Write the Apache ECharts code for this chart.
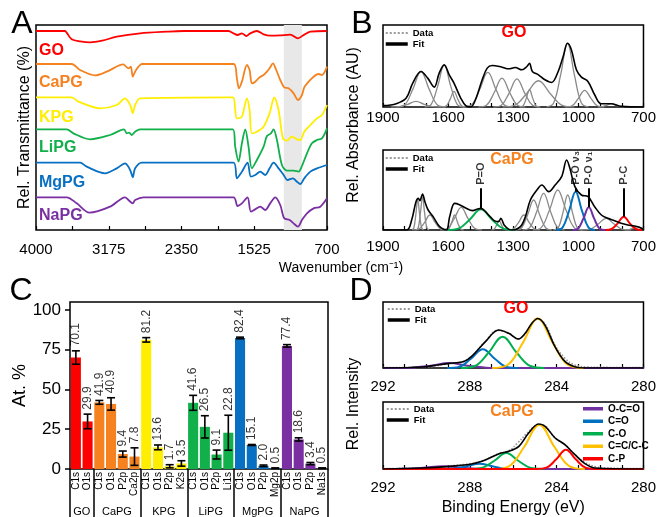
<!DOCTYPE html>
<html>
<head>
<meta charset="utf-8">
<script src="https://cdn.jsdelivr.net/npm/echarts@6/dist/echarts.min.js"></script>
<style>
  html, body { margin: 0; padding: 0; background: #fff; }
  #chart { width: 659px; height: 517px; }
</style>
</head>
<body>
<div id="chart"></div>
<script>
// ---- A: FTIR spectra (wavenumber, relative transmittance, offset units) ----
const ftirNames = ['GO', 'CaPG', 'KPG', 'LiPG', 'MgPG', 'NaPG']
const ftirColors = ['#ff0000', '#f5821f', '#ffee00', '#11b04b', '#0870c2', '#7a2fa2']
const ftirGO = [[4000,597],[3671,597],[3652,592],[3595,572],[3500,566],[3387,563],[3250,568],[3084,580],[2819,590],[2517,595],[2327,597],[1817,597],[1760,590],[1714,585],[1665,590],[1616,582],[1571,590],[1495,597],[1419,587],[1344,583],[1230,584],[1117,586],[1030,575],[965,585],[889,595],[700,597]]
const ftirCaPG = [[4000,498],[3595,498],[3501,480],[3330,464],[3198,475],[3009,497],[2978,490],[2952,485],[2925,490],[2903,460],[2876,475],[2838,490],[2800,498],[1760,498],[1722,455],[1699,425],[1665,445],[1608,495],[1578,480],[1552,440],[1514,445],[1465,458],[1419,465],[1381,475],[1351,485],[1313,500],[1276,480],[1230,450],[1185,428],[1136,425],[1079,410],[1030,390],[984,405],[958,428],[908,445],[852,460],[795,468],[757,465],[700,490]]
const ftirKPG = [[4000,398],[3595,398],[3519,385],[3273,365],[3084,375],[2990,395],[2952,385],[2925,370],[2903,350],[2876,375],[2819,395],[1767,398],[1741,360],[1722,335],[1665,340],[1608,395],[1578,360],[1552,290],[1495,295],[1419,310],[1351,350],[1298,398],[1249,360],[1200,275],[1154,268],[1098,280],[1041,272],[1003,270],[958,295],[889,315],[814,335],[757,345],[700,375]]
const ftirLiPG = [[4000,302],[3652,302],[3576,290],[3387,272],[3160,285],[3001,302],[2971,290],[2944,292],[2914,285],[2876,295],[2819,302],[1767,302],[1741,250],[1703,205],[1665,260],[1627,302],[1590,250],[1552,185],[1495,210],[1419,250],[1381,282],[1336,290],[1306,302],[1268,270],[1211,195],[1154,178],[1079,178],[1022,175],[984,192],[927,230],[871,260],[814,270],[757,275],[700,305]]
const ftirMgPG = [[4000,202],[3501,202],[3425,190],[3217,170],[3084,185],[2990,200],[2952,190],[2925,175],[2903,158],[2876,185],[2800,202],[1760,202],[1722,155],[1665,175],[1601,202],[1563,160],[1514,165],[1457,175],[1400,165],[1351,185],[1306,202],[1249,185],[1192,165],[1147,150],[1086,155],[1041,145],[1003,138],[958,155],[889,175],[814,185],[700,195]]
const ftirNaPG = [[4000,98],[3652,98],[3538,80],[3395,52],[3160,70],[2990,98],[2952,90],[2903,80],[2876,90],[2782,98],[1760,98],[1714,72],[1665,80],[1601,98],[1563,55],[1514,62],[1457,70],[1400,60],[1344,80],[1287,98],[1230,75],[1185,35],[1124,30],[1079,20],[1030,10],[984,30],[927,50],[852,65],[776,70],[700,95]]
const ftirCurves = [ftirGO, ftirCaPG, ftirKPG, ftirLiPG, ftirMgPG, ftirNaPG]
const ftirBand = [1190, 985]

// ---- B: peak fits of absorbance ----
const bGoFit = [[1900,4],[1839,10],[1793,27],[1763,72],[1725,107],[1694,87],[1664,60],[1641,102],[1618,127],[1595,97],[1573,72],[1542,27],[1519,4],[1496,0],[1474,22],[1443,82],[1420,117],[1397,125],[1352,120],[1321,115],[1291,119],[1260,112],[1237,122],[1225,132],[1212,107],[1184,97],[1154,82],[1123,74],[1093,107],[1070,152],[1050,192],[1032,172],[1009,112],[986,90],[956,77],[925,37],[895,10],[849,10],[803,2],[700,0]]
const bGoPeaks = [
  [[1862,0],[1824,1],[1786,8],[1748,17],[1710,8],[1672,1],[1634,0]],
  [[1839,0],[1801,6],[1763,53],[1725,107],[1687,53],[1649,6],[1611,0]],
  [[1708,0],[1678,8],[1648,63],[1618,127],[1588,63],[1558,8],[1528,0]],
  [[1627,0],[1609,3],[1591,23],[1573,47],[1555,23],[1537,3],[1519,0]],
  [[1531,0],[1493,6],[1455,52],[1417,104],[1379,52],[1341,6],[1303,0]],
  [[1460,0],[1424,5],[1388,43],[1352,87],[1316,43],[1280,5],[1244,0]],
  [[1391,0],[1355,5],[1319,42],[1283,85],[1247,42],[1211,5],[1175,0]],
  [[1270,0],[1255,3],[1240,26],[1225,52],[1210,26],[1195,3],[1180,0]],
  [[1349,0],[1294,5],[1239,40],[1184,79],[1129,40],[1074,5],[1019,0]],
  [[1146,0],[1114,12],[1082,96],[1050,192],[1018,96],[986,12],[954,0]],
  [[1061,0],[1031,3],[1001,25],[971,50],[941,25],[911,3],[881,0]],
  [[909,0],[889,1],[869,5],[849,10],[829,5],[809,1],[789,0]]
]
const bCaFit = [[1900,0],[1791,0],[1768,30],[1748,85],[1737,95],[1730,88],[1718,108],[1707,85],[1692,60],[1669,40],[1639,10],[1608,0],[1593,40],[1570,80],[1548,76],[1517,65],[1487,58],[1464,63],[1449,65],[1418,48],[1388,28],[1368,25],[1357,35],[1342,15],[1320,2],[1305,0],[1267,10],[1244,40],[1221,90],[1191,120],[1168,135],[1137,115],[1107,135],[1077,160],[1054,210],[1039,185],[1016,130],[986,105],[955,100],[925,70],[894,45],[864,35],[833,28],[803,20],[772,15],[742,12],[720,8],[700,2]]
const bCaPeaks = [
  [[1767,0],[1758,6],[1749,45],[1740,90],[1731,45],[1722,6],[1713,0]],
  [[1748,0],[1738,6],[1728,49],[1718,98],[1708,49],[1698,6],[1688,0]],
  [[1759,0],[1734,3],[1709,22],[1684,45],[1659,22],[1634,3],[1609,0]],
  [[1612,0],[1598,3],[1584,22],[1570,45],[1556,22],[1542,3],[1528,0]],
  [[1636,0],[1604,4],[1572,34],[1540,68],[1508,34],[1476,4],[1444,0]],
  [[1401,0],[1389,2],[1377,14],[1365,28],[1353,14],[1341,2],[1329,0]],
  [[1326,0],[1301,3],[1276,22],[1251,45],[1226,22],[1201,3],[1176,0]],
  [[1290,0],[1262,6],[1234,45],[1206,90],[1178,45],[1150,6],[1122,0]],
  [[1256,0],[1224,7],[1192,55],[1160,110],[1128,55],[1096,7],[1064,0]],
  [[1209,0],[1171,7],[1133,60],[1095,120],[1057,60],[1019,7],[981,0]],
  [[1115,0],[1093,6],[1071,52],[1049,105],[1027,52],[1005,6],[983,0]],
  [[986,0],[948,2],[910,17],[872,35],[834,17],[796,2],[758,0]],
  [[787,0],[767,1],[747,5],[727,10],[707,5],[700,3]]
]
const bCaPO = [[1605,0],[1553,4],[1501,31],[1449,62],[1397,31],[1345,4],[1293,0]]
const bCaPO3 = [[1103,0],[1073,7],[1043,57],[1013,115],[983,57],[953,7],[923,0]]
const bCaPO1 = [[1027,0],[1002,4],[977,34],[952,68],[927,34],[902,4],[877,0]]
const bCaPC = [[875,0],[847,3],[819,20],[791,40],[763,20],[735,3],[707,0]]
const annotLabels = ['P=O', 'P-O ν₃', 'P-O ν₁', 'P-C']
const annotWn = [1449, 1013, 952, 791]
const annotPeak = [62, 115, 68, 40]
const annotTop = 125

// ---- C: XPS atomic percentages ----
const xpsCats = ['C1s','O1s','C1s','O1s','P2p','Ca2p','C1s','O1s','P2p','K2s','C1s','O1s','P2p','Li1s','C1s','O1s','P2p','Mg2p','C1s','O1s','P2p','Na1s']
const xpsGroups = ['GO', 'CaPG', 'KPG', 'LiPG', 'MgPG', 'NaPG']
const groupSizes = [2, 4, 4, 4, 4, 4]
const atPct = [70.1,29.9,41.9,40.9,9.4,7.8,81.2,13.6,1.7,3.5,41.6,26.5,9.1,22.8,82.4,15.1,2.0,0.5,77.4,18.6,3.4,0.5]
const atErr = [4.2,4.6,1.2,3.9,1.9,5.5,1.4,1.5,1.0,1.7,4.7,7.0,2.8,11.0,0.5,0.3,0.5,0.2,0.8,1.0,0.7,0.2]
const yTicksC = [0, 105, 25]

// ---- D: C1s high resolution spectra ----
const dGoData = [[292,1],[290,3],[289,13],[288.3,20],[287.9,36],[287.3,80],[286.7,114],[286.2,106],[285.8,88],[285.4,108],[285.1,138],[284.85,148],[284.5,130],[284.1,72],[283.6,28],[283.2,10],[282.6,3],[282,2],[280,1]]
const dGoFit = [[292,0],[290.17,3],[289.41,10],[288.8,15],[288.27,20],[287.89,37],[287.28,80],[286.67,115],[286.21,105],[285.76,88],[285.45,105],[285.15,135],[284.87,150],[284.54,130],[284.08,65],[283.62,20],[283.17,4],[282.7,0],[280,0]]
const dGoOCO = [[292,0],[291.5,0],[290.65,1],[289.8,7],[288.95,15],[288.1,7],[287.25,1],[286.4,0],[280,0]]
const dGoCdO = [[289.05,0],[288.5,3],[287.95,28],[287.4,57],[286.85,28],[286.3,3],[285.75,0]]
const dGoCO = [[288.41,0],[287.77,6],[287.13,47],[286.49,95],[285.85,47],[285.21,6],[284.57,0]]
const dGoCC = [[286.97,0],[286.27,9],[285.57,75],[284.87,150],[284.17,75],[283.47,9],[282.77,0]]
const dCaData = [[292,1],[290,4],[289,9],[287.9,17],[287.3,28],[286.7,45],[286.2,55],[285.8,78],[285.4,105],[285.1,124],[284.83,134],[284.5,128],[284.1,95],[283.6,72],[283.2,46],[282.7,20],[282.2,7],[281.7,3],[280,1]]
const dCaFit = [[292,0],[290.15,3],[288.93,8],[287.87,16],[287.26,28],[286.65,46],[286.2,53],[285.74,68],[285.29,108],[284.83,135],[284.53,128],[284.07,93],[283.62,73],[283.16,43],[282.7,16],[282.25,3],[280,0]]
const dCaOCO = [[292,0],[291.94,0],[291.04,0.5],[290.14,4],[289.24,8],[288.34,4],[287.44,0.5],[286.54,0],[280,0]]
const dCaCdO = [[289.36,0],[288.76,1],[288.16,8],[287.56,16],[286.96,8],[286.36,1],[285.76,0]]
const dCaCO = [[288.03,0],[287.46,3],[286.89,24],[286.32,48],[285.75,24],[285.18,3],[284.61,0]]
const dCaCC = [[286.9,0],[286.2,8],[285.5,66],[284.8,133],[284.1,66],[283.4,8],[282.7,0]]
const dCaCP = [[292,0],[284.92,0],[284.47,4],[284.02,29],[283.57,58],[283.12,29],[282.67,4],[282.22,0],[280,0]]
const compNames = ['O-C=O', 'C=O', 'C-O', 'C=C/C-C', 'C-P']
const compColors = ['#7030a0', '#0070c0', '#00b050', '#ffc000', '#ff0000']

const FONT = '"Liberation Sans", Arial, sans-serif'
const GRAY = '#8a8a8a'

// axis index pairs [x, y] per plot
const P = { A: [0, 0], B1: [1, 1], B2: [2, 2], C: [3, 3], D1: [5, 4], D2: [6, 5] }

function curve(p, data, color, width, extra) {
  return Object.assign({
    type: 'line', xAxisIndex: p[0], yAxisIndex: p[1], data: data,
    symbol: 'none', showSymbol: false, smooth: 0.4, silent: true,
    lineStyle: { color: color, width: width }, itemStyle: { color: color }
  }, extra || {})
}

function wnAxis(grid, min, max, step, labelStep, margin, extra) {
  return Object.assign({
    type: 'value', gridIndex: grid, min: min, max: max, interval: step, inverse: true,
    axisLine: { show: false },
    axisTick: { show: true, inside: true, length: 4, lineStyle: { color: '#000', width: 1.2 } },
    axisLabel: {
      color: '#000', fontSize: 15, margin: margin,
      formatter: v => (Math.abs((v - min) % labelStep) < 1e-6 ? String(v) : '')
    },
    splitLine: { show: false }
  }, extra || {})
}

function hiddenY(grid, max, extra) {
  return Object.assign({
    type: 'value', gridIndex: grid, min: 0, max: max,
    axisLine: { show: false }, axisTick: { show: false }, axisLabel: { show: false }, splitLine: { show: false }
  }, extra || {})
}

// bar colours and group axis built from the XPS arrays
const catColor = []
const groupAxis = new Array(xpsCats.length + 1).fill('')
const groupSeps = [0]
let start = 0
groupSizes.forEach((n, g) => {
  for (let k = 0; k < n; k++) catColor.push(ftirColors[g])
  groupAxis[start + n / 2] = xpsGroups[g]
  start += n
  groupSeps.push(start)
})

const series = []

// A
series.push({
  type: 'line', xAxisIndex: 0, yAxisIndex: 0, data: [], z: 1, silent: true,
  markArea: { silent: true, itemStyle: { color: '#e8e8e8' }, data: [[{ xAxis: ftirBand[0] }, { xAxis: ftirBand[1] }]] }
})
ftirCurves.forEach((d, i) => series.push(curve(P.A, d, ftirColors[i], 1.8, { name: ftirNames[i], smooth: 0.3 })))

// B top
bGoPeaks.forEach(d => series.push(curve(P.B1, d, GRAY, 1.3)))
series.push(curve(P.B1, bGoFit, '#000', 1.6, { name: 'Fit', smooth: 0.35 }))

// B bottom
bCaPeaks.forEach(d => series.push(curve(P.B2, d, GRAY, 1.3)))
series.push(curve(P.B2, bCaPO, '#00b050', 2))
series.push(curve(P.B2, bCaPO3, '#0070c0', 2))
series.push(curve(P.B2, bCaPO1, '#7030a0', 2))
series.push(curve(P.B2, bCaPC, '#ff0000', 2))
series.push(curve(P.B2, bCaFit, '#000', 1.6, { name: 'Fit', smooth: 0.35 }))
series.push({
  type: 'scatter', xAxisIndex: 2, yAxisIndex: 2, symbolSize: 1, silent: true,
  itemStyle: { color: 'rgba(0,0,0,0)' },
  data: annotWn.map((w, i) => [w, annotTop]),
  label: {
    show: true, position: 'top', distance: 3, rotate: 90, align: 'left', verticalAlign: 'middle',
    color: '#000', fontSize: 11, fontWeight: 'bold', fontFamily: FONT,
    formatter: p => annotLabels[p.dataIndex]
  },
  markLine: {
    silent: true, symbol: 'none', label: { show: false },
    lineStyle: { color: '#000', width: 2, type: 'solid' },
    data: annotWn.map((w, i) => [{ coord: [w, annotPeak[i]] }, { coord: [w, annotTop] }])
  }
})

// C
series.push({
  type: 'bar', xAxisIndex: 3, yAxisIndex: 3, barCategoryGap: '14%', silent: true,
  data: atPct.map((v, i) => ({ value: v, itemStyle: { color: catColor[i] } }))
})
series.push({
  type: 'custom', xAxisIndex: 3, yAxisIndex: 3, silent: true, z: 5,
  encode: { x: 0, y: [1, 2] },
  data: atPct.map((v, i) => [i, Math.max(0, v - atErr[i]), v + atErr[i]]),
  renderItem: (params, api) => {
    const lo = api.coord([api.value(0), api.value(1)])
    const hi = api.coord([api.value(0), api.value(2)])
    const cap = 4
    const st = { stroke: '#000', lineWidth: 1.6 }
    return {
      type: 'group', children: [
        { type: 'line', shape: { x1: lo[0], y1: lo[1], x2: hi[0], y2: hi[1] }, style: st },
        { type: 'line', shape: { x1: lo[0] - cap, y1: lo[1], x2: lo[0] + cap, y2: lo[1] }, style: st },
        { type: 'line', shape: { x1: hi[0] - cap, y1: hi[1], x2: hi[0] + cap, y2: hi[1] }, style: st }
      ]
    }
  }
})
series.push({
  type: 'scatter', xAxisIndex: 3, yAxisIndex: 3, symbolSize: 1, silent: true, z: 6,
  itemStyle: { color: 'rgba(0,0,0,0)' },
  data: atPct.map((v, i) => [i, v + atErr[i]]),
  label: {
    show: true, position: 'top', distance: 4, rotate: 90, align: 'left', verticalAlign: 'middle',
    color: '#000', fontSize: 12, fontFamily: FONT,
    formatter: p => atPct[p.dataIndex].toFixed(1)
  }
})

// D top
series.push(curve(P.D1, dGoData, '#9a9a9a', 1.6, { name: 'Data', lineStyle: { color: '#9a9a9a', width: 1.6, type: 'dotted' } }))
;[dGoOCO, dGoCdO, dGoCO, dGoCC].forEach((d, i) => series.push(curve(P.D1, d, compColors[i], 2, { name: compNames[i] })))
series.push(curve(P.D1, dGoFit, '#000', 1.6, { name: 'Fit', smooth: 0.35 }))

// D bottom
series.push(curve(P.D2, dCaData, '#9a9a9a', 1.6, { name: 'Data', lineStyle: { color: '#9a9a9a', width: 1.6, type: 'dotted' } }))
;[dCaOCO, dCaCdO, dCaCO, dCaCC, dCaCP].forEach((d, i) => series.push(curve(P.D2, d, compColors[i], 2, { name: compNames[i] })))
series.push(curve(P.D2, dCaFit, '#000', 1.6, { name: 'Fit', smooth: 0.35 }))

const gridBox = { show: true, borderColor: '#000', borderWidth: 1.5, backgroundColor: 'transparent', containLabel: false }
const fitLegend = (left, top) => ({
  orient: 'vertical', left: left, top: top, padding: 0, itemGap: 1, itemWidth: 22, itemHeight: 8,
  selectedMode: false,
  itemStyle: { opacity: 0 },
  textStyle: { color: '#000', fontSize: 9.5, fontWeight: 'bold', fontFamily: FONT, lineHeight: 10 },
  data: [{ name: 'Data' }, { name: 'Fit', lineStyle: { width: 3.5 } }]
})

const txt = (text, x, y, font, fill, align, extra) => Object.assign({
  type: 'text', x: x, y: y, silent: true,
  style: { text: text, font: font, fill: fill || '#000', textAlign: align || 'left', textVerticalAlign: 'middle' }
}, extra || {})

const option = {
  animation: false,
  backgroundColor: '#fff',
  textStyle: { fontFamily: FONT },
  grid: [
    Object.assign({ left: 36, top: 25, width: 291, height: 205 }, gridBox),
    Object.assign({ left: 383, top: 25, width: 263, height: 82 }, gridBox),
    Object.assign({ left: 383, top: 150, width: 263, height: 80 }, gridBox),
    Object.assign({ left: 70, top: 302, width: 258, height: 167 }, gridBox),
    Object.assign({ left: 383, top: 302, width: 263, height: 66 }, gridBox),
    Object.assign({ left: 383, top: 402, width: 263, height: 67 }, gridBox)
  ],
  xAxis: [
    wnAxis(0, 700, 4000, 412.5, 825, 12),
    wnAxis(1, 700, 1900, 100, 300, 3),
    wnAxis(2, 700, 1900, 100, 300, 9),
    {
      type: 'category', gridIndex: 3, data: xpsCats,
      axisLine: { show: false }, axisTick: { show: false },
      axisLabel: { interval: 0, rotate: 90, fontSize: 10, color: '#000', margin: 3 }
    },
    {
      type: 'category', gridIndex: 3, data: groupAxis, boundaryGap: false, position: 'bottom',
      axisLine: { show: false },
      axisTick: { show: true, length: 48, interval: idx => groupSeps.indexOf(idx) >= 0, lineStyle: { color: '#000', width: 1.5 } },
      axisLabel: { interval: 0, fontSize: 11, color: '#000', margin: 37 }
    },
    wnAxis(4, 280, 292, 1, 4, 11),
    wnAxis(5, 280, 292, 1, 4, 11, {
      name: 'Binding Energy (eV)', nameLocation: 'middle', nameGap: 31,
      nameTextStyle: { fontSize: 16, color: '#000' }
    })
  ],
  yAxis: [
    hiddenY(0, 615, {
      name: 'Rel. Transmittance (%)', nameLocation: 'middle', nameGap: 3,
      nameTextStyle: { fontSize: 16, color: '#000' }
    }),
    hiddenY(1, 247),
    hiddenY(2, 240),
    {
      type: 'value', gridIndex: 3, min: yTicksC[0], max: yTicksC[1], interval: yTicksC[2],
      axisLine: { show: false },
      axisTick: { show: true, length: 5, lineStyle: { color: '#000', width: 1.5 } },
      axisLabel: { fontSize: 17, color: '#000', margin: 9, showMaxLabel: false },
      splitLine: { show: false },
      name: 'At. %', nameLocation: 'middle', nameGap: 36,
      nameTextStyle: { fontSize: 18, color: '#000' }
    },
    hiddenY(4, 200),
    hiddenY(5, 201)
  ],
  legend: [
    fitLegend(384, 28),
    fitLegend(384, 153),
    fitLegend(386, 304),
    fitLegend(385, 404),
    {
      orient: 'vertical', left: 583, top: 403, padding: 0, itemGap: 1, itemWidth: 20, itemHeight: 3.5,
      icon: 'rect', selectedMode: false,
      textStyle: { color: '#000', fontSize: 10, fontWeight: 'bold', fontFamily: FONT, lineHeight: 11.5 },
      data: compNames
    }
  ],
  graphic: [
    txt('A', 22, 24, '32px ' + FONT, '#000', 'center'),
    txt('B', 362, 24, '32px ' + FONT, '#000', 'center'),
    txt('C', 21, 291, '32px ' + FONT, '#000', 'center'),
    txt('D', 361, 291, '32px ' + FONT, '#000', 'center'),
    txt('GO', 39, 51, 'bold 16px ' + FONT, ftirColors[0]),
    txt('CaPG', 39, 83, 'bold 16px ' + FONT, ftirColors[1]),
    txt('KPG', 39, 118, 'bold 16px ' + FONT, ftirColors[2]),
    txt('LiPG', 39, 148, 'bold 16px ' + FONT, ftirColors[3]),
    txt('MgPG', 39, 183, 'bold 16px ' + FONT, ftirColors[4]),
    txt('NaPG', 39, 216, 'bold 16px ' + FONT, ftirColors[5]),
    txt('GO', 514, 33, 'bold 16px ' + FONT, '#ff0000', 'center'),
    txt('CaPG', 512, 160, 'bold 16px ' + FONT, '#f5821f', 'center'),
    txt('GO', 516, 309, 'bold 16px ' + FONT, '#ff0000', 'center'),
    txt('CaPG', 512, 412, 'bold 16px ' + FONT, '#f5821f', 'center'),
    txt('Wavenumber (cm⁻¹)', 341, 268, '14px ' + FONT, '#000', 'center'),
    txt('Rel. Absorbance (AU)', 354, 125, '16px ' + FONT, '#000', 'center', { rotation: Math.PI / 2 }),
    txt('Rel. Intensity', 354, 404, '16px ' + FONT, '#000', 'center', { rotation: Math.PI / 2 })
  ],
  series: series
}

const myChart = echarts.init(document.getElementById('chart'))
myChart.setOption(option)
</script>
</body>
</html>
